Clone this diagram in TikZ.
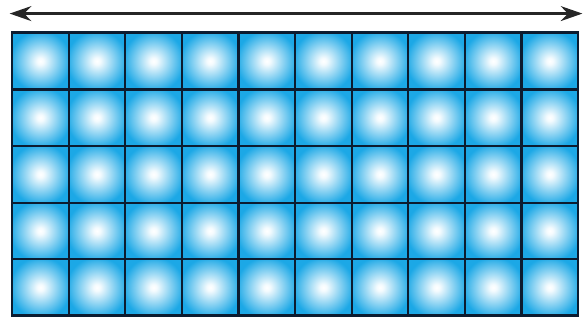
\documentclass[tikz,border=0pt]{standalone}
\usepackage{tikz}
\usetikzlibrary{arrows.meta, positioning}
\usepackage{xcolor}

\definecolor{cellblue}{RGB}{28,168,230}
\definecolor{gridline}{RGB}{12,28,48}
\pgfdeclareradialshading{cellglow}{\pgfpoint{0bp}{0bp}}{%
  color(0bp)=(white); color(3bp)=(white!95!cellblue); color(27bp)=(cellblue); color(50bp)=(cellblue)}

\tikzset{
  cell/.style={draw=gridline, line width=1.1pt, shading=cellglow,
    minimum size=1cm, inner sep=0pt, outer sep=0pt},
  span/.style={{Stealth[length=0.38cm,width=0.26cm]}-{Stealth[length=0.38cm,width=0.26cm]},
    line width=1.9pt, draw=black!85}
}

\begin{document}
\begin{tikzpicture}
  \useasboundingbox (0,0) rectangle (10.37,5.65);
  % grid of 10 x 5 cells
  \foreach \i in {0,...,9}
    \foreach \j in {0,...,4}
      \node[cell] (c-\i-\j) at (0.712+\i,0.57+\j) {};
  \draw[gridline, line width=1.4pt] (c-0-0.south west) rectangle (c-9-4.north east);
  % width arrow
  \coordinate (spanL) at (0.17,5.41);
  \coordinate (spanR) at (10.29,5.41);
  \draw[span] (spanL) -- (spanR);
\end{tikzpicture}
\end{document}
